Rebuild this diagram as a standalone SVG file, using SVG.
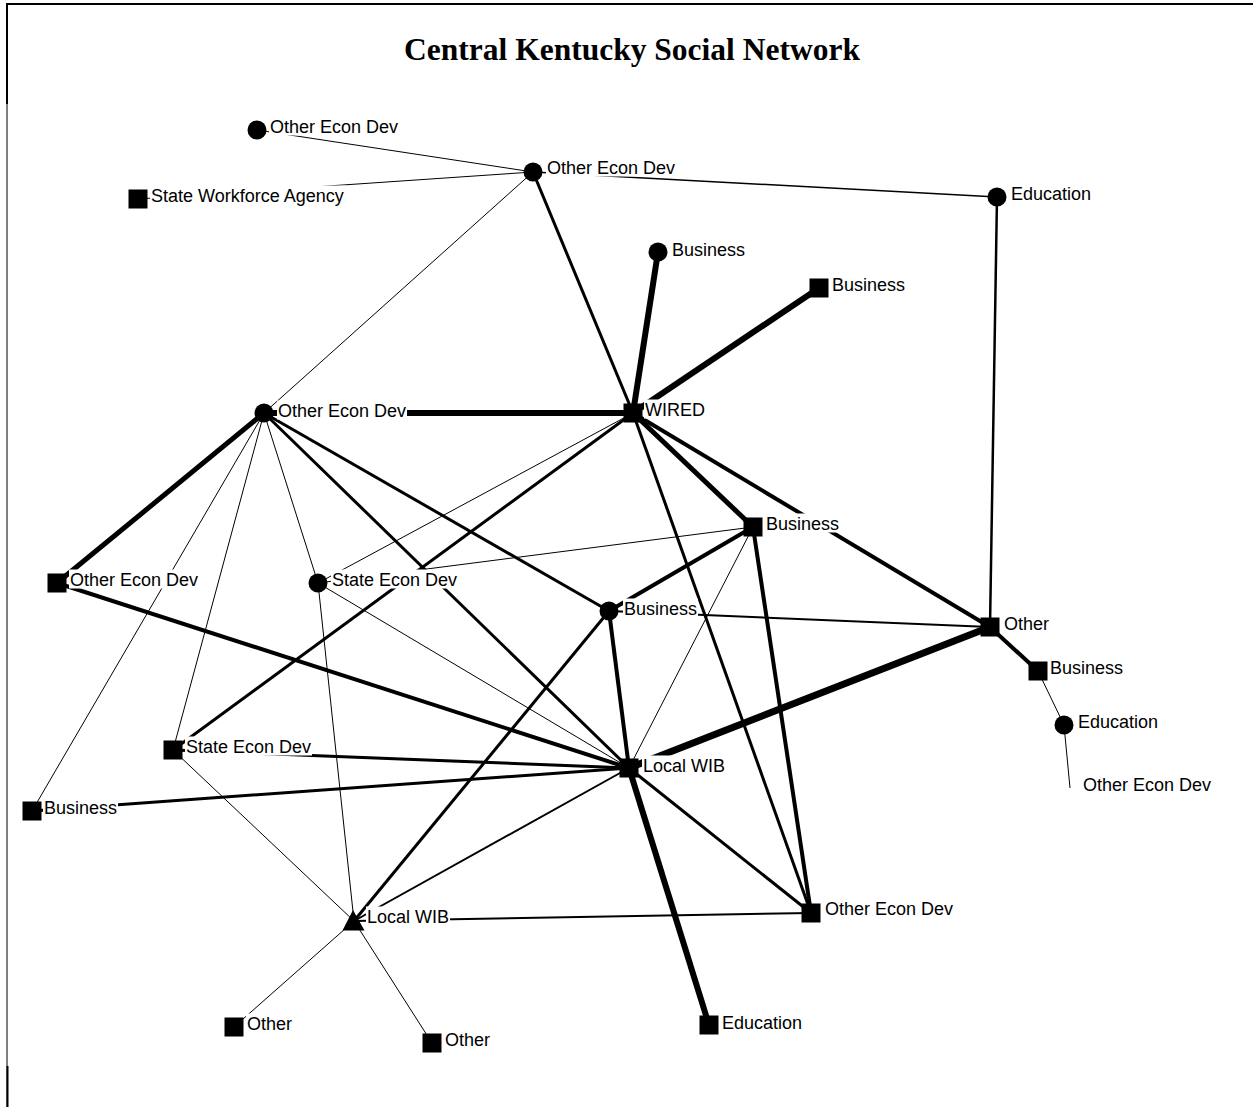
<svg xmlns="http://www.w3.org/2000/svg" width="1253" height="1107" viewBox="0 0 1253 1107">
  <style>
    .bg { fill: #ffffff; }
    .frame { stroke: #000; fill: none; }
    .title { font-family: "Liberation Serif", "Times New Roman", serif; font-weight: bold; font-size: 31.5px; fill: #000; }
    .edges line { stroke: #000; stroke-linecap: butt; }
    .w1 { stroke-width: 1; }
    .w15 { stroke-width: 1.5; }
    .w2 { stroke-width: 2; }
    .w25 { stroke-width: 2.5; }
    .w3 { stroke-width: 3; }
    .w4 { stroke-width: 4; }
    .w5 { stroke-width: 5; }
    .w6 { stroke-width: 6; }
    .w7 { stroke-width: 7; }
    .mk { fill: #000; }
    .lb { fill: #ffffff; }
    .lt { font-family: "Liberation Sans", Arial, sans-serif; font-size: 18px; fill: #000; }
  </style>

  <rect class="bg" x="0" y="0" width="1253" height="1107"/>

  <!-- page frame -->
  <line class="frame" x1="6" y1="4" x2="1253" y2="4" stroke-width="2"/>
  <line class="frame" x1="7" y1="3" x2="7" y2="1107" stroke-width="1"/>
  <line class="frame" x1="7" y1="3" x2="7" y2="104" stroke-width="2"/>
  <line class="frame" x1="7.5" y1="1066" x2="7.5" y2="1107" stroke-width="2"/>

  <text class="title" x="632" y="60" text-anchor="middle">Central Kentucky Social Network</text>

  <!-- ties between actors; stroke width = tie strength -->
  <g id="connectors" class="edges">
    <line class="w1" x1="257" y1="130" x2="533" y2="172"/>
    <line class="w1" x1="138" y1="199" x2="533" y2="172"/>
    <line class="w15" x1="533" y1="172" x2="997" y2="197"/>
    <line class="w1" x1="533" y1="172" x2="264" y2="413"/>
    <line class="w3" x1="533" y1="172" x2="633" y2="413"/>
    <line class="w25" x1="997" y1="197" x2="990" y2="627"/>
    <line class="w6" x1="658" y1="252" x2="633" y2="413"/>
    <line class="w6" x1="819" y1="288" x2="633" y2="413"/>
    <line class="w6" x1="264" y1="413" x2="633" y2="413"/>
    <line class="w5" x1="633" y1="413" x2="753" y2="527"/>
    <line class="w4" x1="633" y1="413" x2="990" y2="627"/>
    <line class="w1" x1="633" y1="413" x2="318" y2="583"/>
    <line class="w3" x1="633" y1="413" x2="173" y2="750"/>
    <line class="w3" x1="633" y1="413" x2="811" y2="913"/>
    <line class="w5" x1="264" y1="413" x2="57" y2="583"/>
    <line class="w1" x1="264" y1="413" x2="32" y2="811"/>
    <line class="w1" x1="264" y1="413" x2="173" y2="750"/>
    <line class="w1" x1="264" y1="413" x2="318" y2="583"/>
    <line class="w3" x1="264" y1="413" x2="629" y2="768"/>
    <line class="w3" x1="264" y1="413" x2="609" y2="611"/>
    <line class="w4" x1="57" y1="583" x2="629" y2="768"/>
    <line class="w1" x1="318" y1="583" x2="753" y2="527"/>
    <line class="w1" x1="318" y1="583" x2="629" y2="768"/>
    <line class="w1" x1="318" y1="583" x2="354" y2="921"/>
    <line class="w4" x1="753" y1="527" x2="609" y2="611"/>
    <line class="w4" x1="753" y1="527" x2="811" y2="913"/>
    <line class="w1" x1="753" y1="527" x2="629" y2="768"/>
    <line class="w2" x1="609" y1="611" x2="990" y2="627"/>
    <line class="w4" x1="609" y1="611" x2="629" y2="768"/>
    <line class="w3" x1="609" y1="611" x2="354" y2="921"/>
    <line class="w7" x1="990" y1="627" x2="629" y2="768"/>
    <line class="w4" x1="990" y1="627" x2="1038" y2="671"/>
    <line class="w1" x1="1038" y1="671" x2="1064" y2="725"/>
    <line class="w1" x1="1064" y1="725" x2="1070" y2="788"/>
    <line class="w3" x1="173" y1="750" x2="629" y2="768"/>
    <line class="w1" x1="173" y1="750" x2="354" y2="921"/>
    <line class="w3" x1="32" y1="811" x2="629" y2="768"/>
    <line class="w2" x1="629" y1="768" x2="354" y2="921"/>
    <line class="w3" x1="629" y1="768" x2="811" y2="913"/>
    <line class="w6" x1="629" y1="768" x2="709" y2="1025"/>
    <line class="w2" x1="354" y1="921" x2="811" y2="913"/>
    <line class="w1" x1="354" y1="921" x2="234" y2="1027"/>
    <line class="w1" x1="354" y1="921" x2="432" y2="1043"/>
  </g>

  <!-- actors: marker, then label on an opaque box -->
  <g id="n1"><circle class="mk" cx="257" cy="130" r="9.5"/><rect class="lb" x="269" y="116.5" width="130" height="19"/><text class="lt" x="270" y="133">Other Econ Dev</text></g>
  <g id="n2"><rect class="mk" x="128.5" y="189.5" width="19" height="19"/><rect class="lb" x="150" y="185.5" width="196" height="19"/><text class="lt" x="151" y="202">State Workforce Agency</text></g>
  <g id="n3"><circle class="mk" cx="533" cy="172" r="9.5"/><rect class="lb" x="546" y="157.5" width="130" height="19"/><text class="lt" x="547" y="174">Other Econ Dev</text></g>
  <g id="n4"><circle class="mk" cx="997" cy="197" r="9.5"/><rect class="lb" x="1010" y="183.5" width="82" height="19"/><text class="lt" x="1011" y="200">Education</text></g>
  <g id="n5"><circle class="mk" cx="658" cy="252" r="9.5"/><rect class="lb" x="671" y="239.5" width="75" height="19"/><text class="lt" x="672" y="256">Business</text></g>
  <g id="n6"><rect class="mk" x="809.5" y="278.5" width="19" height="19"/><rect class="lb" x="831" y="274.5" width="75" height="19"/><text class="lt" x="832" y="291">Business</text></g>
  <g id="n7"><rect class="mk" x="623.5" y="403.5" width="19" height="19"/><rect class="lb" x="644" y="399.5" width="62" height="19"/><text class="lt" x="645" y="416">WIRED</text></g>
  <g id="n8"><circle class="mk" cx="264" cy="413" r="9.5"/><rect class="lb" x="277" y="400.5" width="130" height="19"/><text class="lt" x="278" y="417">Other Econ Dev</text></g>
  <g id="n9"><rect class="mk" x="743.5" y="517.5" width="19" height="19"/><rect class="lb" x="765" y="513.5" width="75" height="19"/><text class="lt" x="766" y="530">Business</text></g>
  <g id="n10"><rect class="mk" x="47.5" y="573.5" width="19" height="19"/><rect class="lb" x="69" y="569.5" width="130" height="19"/><text class="lt" x="70" y="586">Other Econ Dev</text></g>
  <g id="n11"><circle class="mk" cx="318" cy="583" r="9.5"/><rect class="lb" x="331" y="569.5" width="127" height="19"/><text class="lt" x="332" y="586">State Econ Dev</text></g>
  <g id="n12"><circle class="mk" cx="609" cy="611" r="9.5"/><rect class="lb" x="623" y="598.5" width="75" height="19"/><text class="lt" x="624" y="615">Business</text></g>
  <g id="n13"><rect class="mk" x="980.5" y="617.5" width="19" height="19"/><rect class="lb" x="1003" y="613.5" width="47" height="19"/><text class="lt" x="1004" y="630">Other</text></g>
  <g id="n14"><rect class="mk" x="1028.5" y="661.5" width="19" height="19"/><rect class="lb" x="1049" y="657.5" width="75" height="19"/><text class="lt" x="1050" y="674">Business</text></g>
  <g id="n15"><circle class="mk" cx="1064" cy="725" r="9.5"/><rect class="lb" x="1077" y="711.5" width="82" height="19"/><text class="lt" x="1078" y="728">Education</text></g>
  <g id="n16"><rect class="lb" x="1082" y="774.5" width="130" height="19"/><text class="lt" x="1083" y="791">Other Econ Dev</text></g>
  <g id="n17"><rect class="mk" x="163.5" y="740.5" width="19" height="19"/><rect class="lb" x="185" y="736.5" width="127" height="19"/><text class="lt" x="186" y="753">State Econ Dev</text></g>
  <g id="n18"><rect class="mk" x="619.5" y="758.5" width="19" height="19"/><rect class="lb" x="642" y="755.5" width="84" height="19"/><text class="lt" x="643" y="772">Local WIB</text></g>
  <g id="n19"><rect class="mk" x="22.5" y="801.5" width="19" height="19"/><rect class="lb" x="43" y="797.5" width="75" height="19"/><text class="lt" x="44" y="814">Business</text></g>
  <g id="n20"><polygon class="mk" points="353,910 342.5,930.5 364.5,930.5"/><rect class="lb" x="366" y="906.5" width="84" height="19"/><text class="lt" x="367" y="923">Local WIB</text></g>
  <g id="n21"><rect class="mk" x="801.5" y="903.5" width="19" height="19"/><rect class="lb" x="824" y="898.5" width="130" height="19"/><text class="lt" x="825" y="915">Other Econ Dev</text></g>
  <g id="n22"><rect class="mk" x="224.5" y="1017.5" width="19" height="19"/><rect class="lb" x="246" y="1013.5" width="47" height="19"/><text class="lt" x="247" y="1030">Other</text></g>
  <g id="n23"><rect class="mk" x="422.5" y="1033.5" width="19" height="19"/><rect class="lb" x="444" y="1029.5" width="47" height="19"/><text class="lt" x="445" y="1046">Other</text></g>
  <g id="n24"><rect class="mk" x="699.5" y="1015.5" width="19" height="19"/><rect class="lb" x="721" y="1012.5" width="82" height="19"/><text class="lt" x="722" y="1029">Education</text></g>
</svg>
